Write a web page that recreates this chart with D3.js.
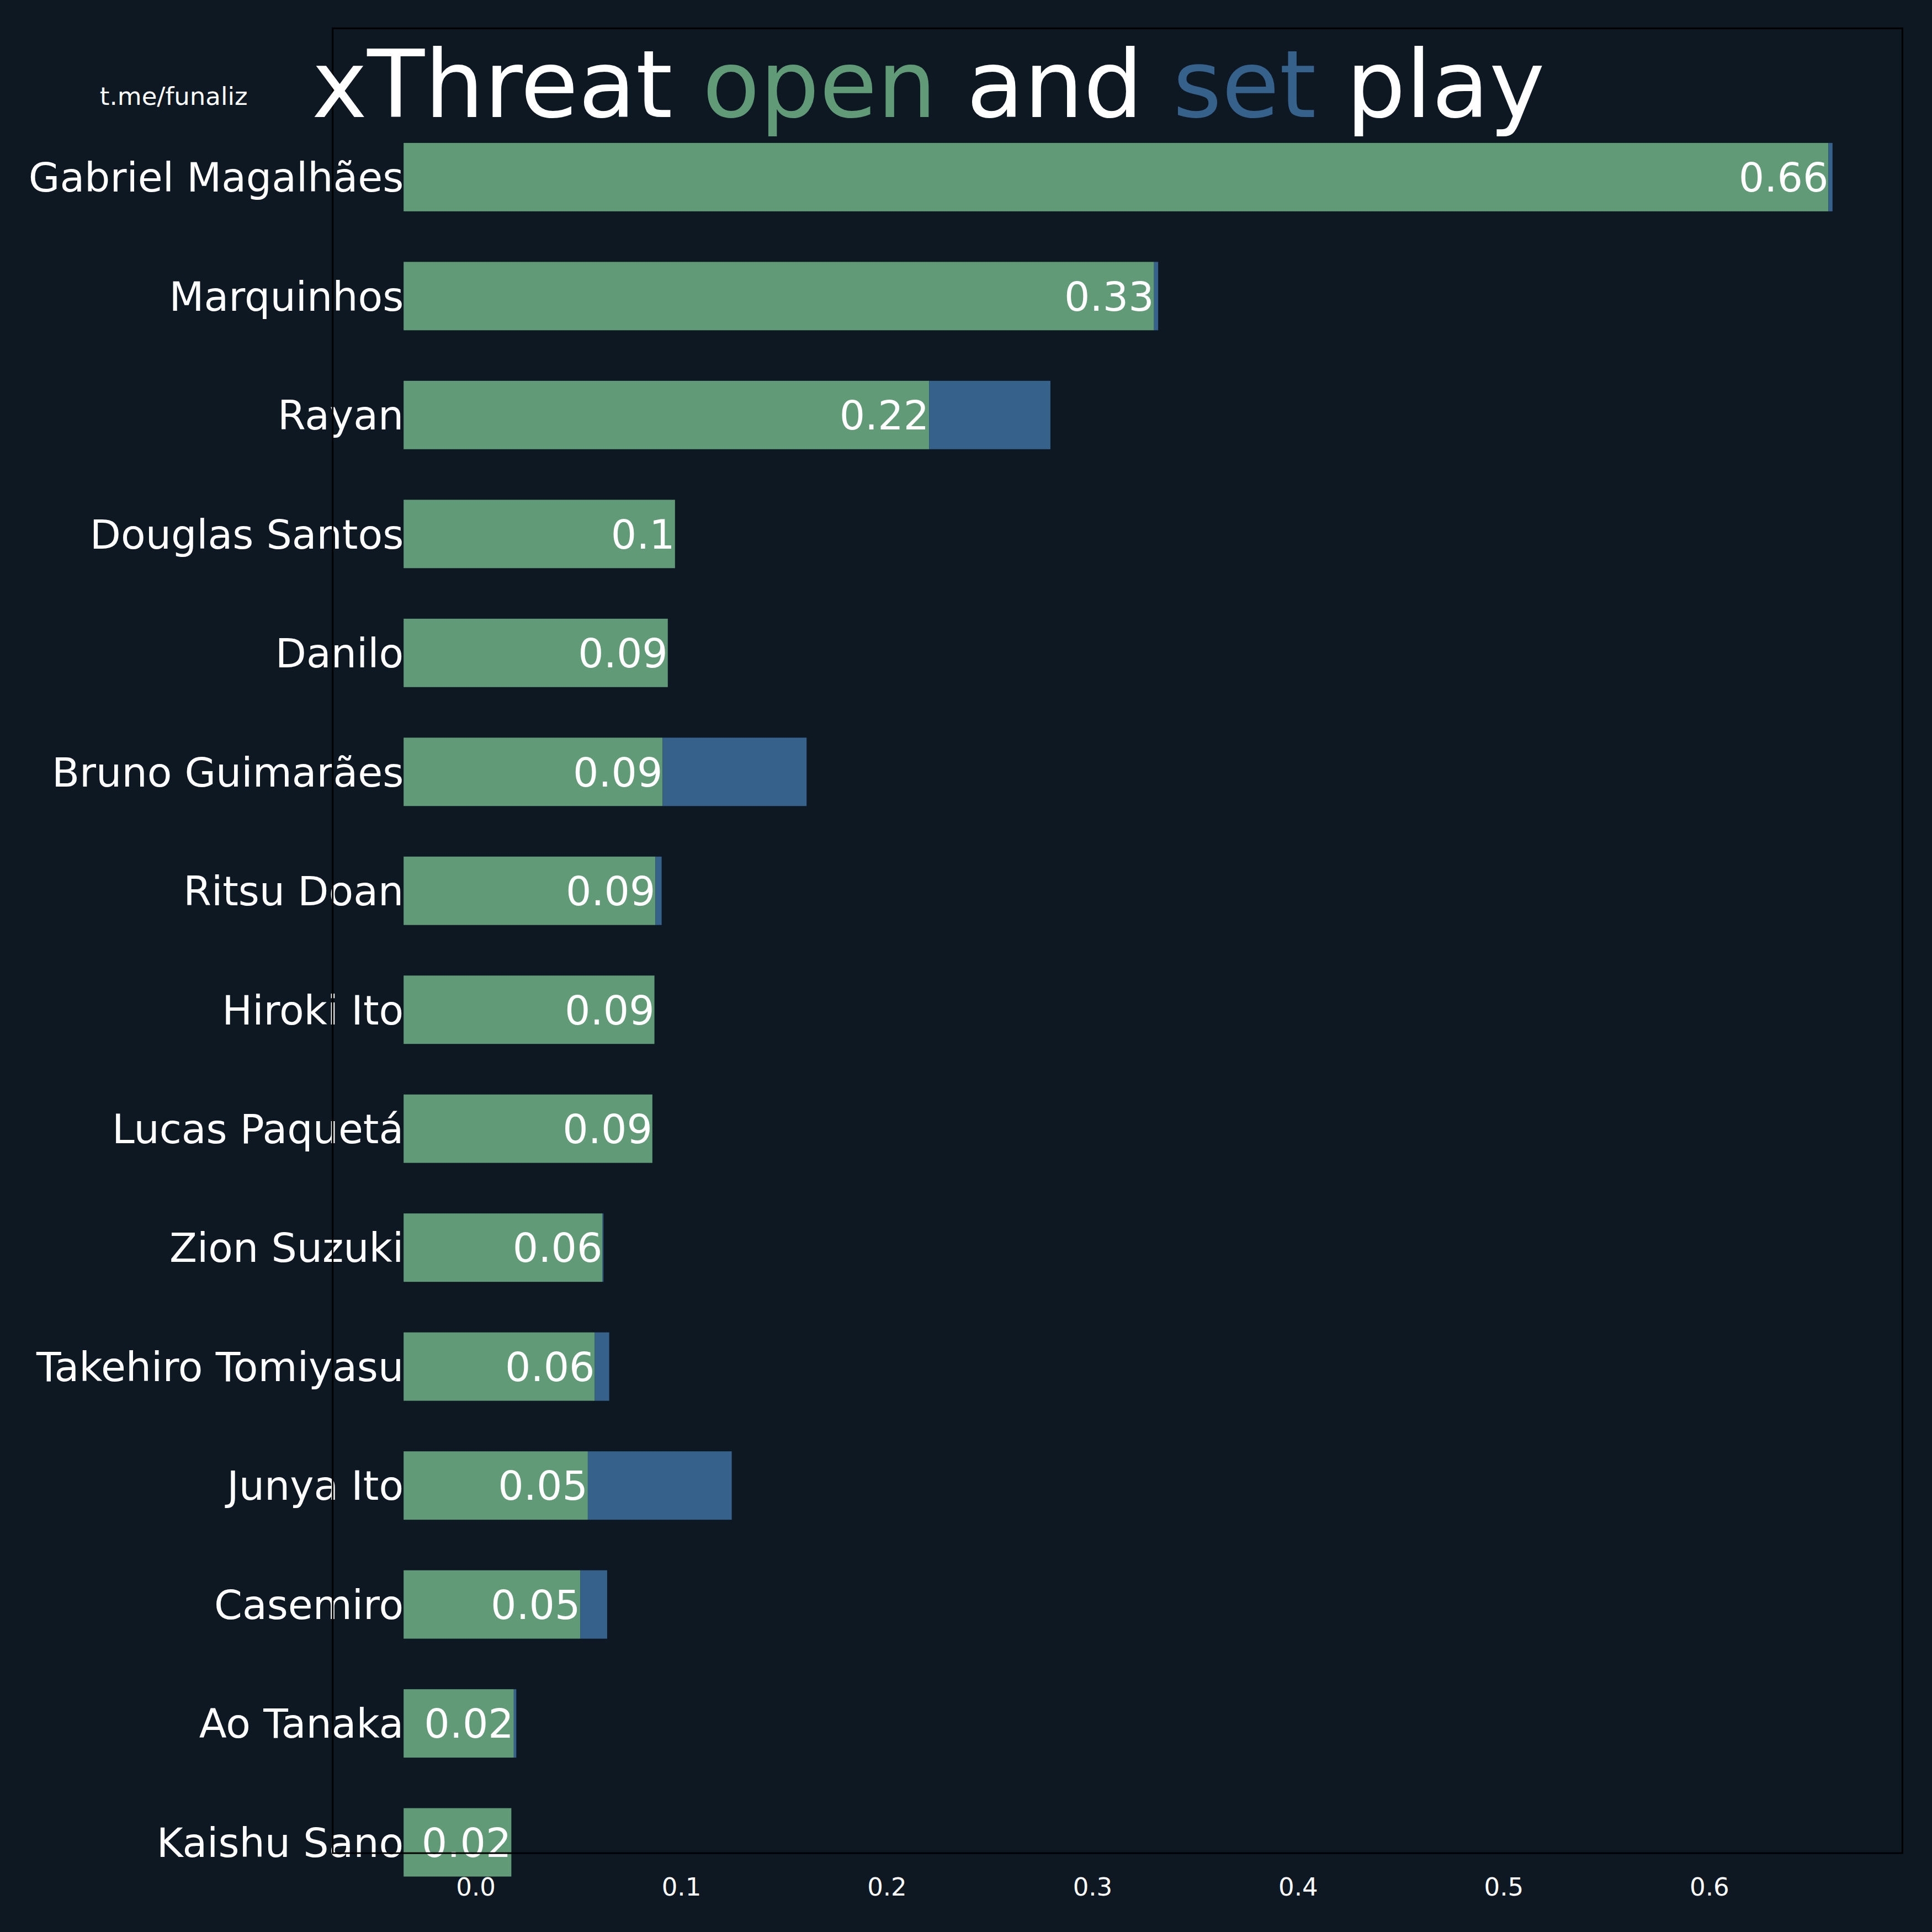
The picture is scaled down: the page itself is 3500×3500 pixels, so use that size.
<!DOCTYPE html>
<html><head><meta charset="utf-8">
<script src="https://cdn.jsdelivr.net/npm/d3@7"></script>
<style>body{margin:0;background:#0e1823}</style>
</head><body>
<script>
const players = ["Gabriel Magalhães","Marquinhos","Rayan","Douglas Santos","Danilo","Bruno Guimarães","Ritsu Doan","Hiroki Ito","Lucas Paquetá","Zion Suzuki","Takehiro Tomiyasu","Junya Ito","Casemiro","Ao Tanaka","Kaishu Sano"];
const openPlay = [0.658,0.330,0.2206,0.097,0.0935,0.091,0.0875,0.087,0.086,0.0617,0.058,0.0546,0.051,0.0186,0.0174];
const setPlay = [0.002,0.002,0.059,0,0,0.070,0.003,0,0,0.0005,0.007,0.070,0.013,0.0012,0];
const barStart = -0.035;
const xTicks = [0,0.1,0.2,0.3,0.4,0.5,0.6];

const s = 3500/1568;
const W = 3500, H = 3500;
const frame = {l:270*s, r:1544*s, t:23*s, b:1504*s};
const green = "#619a77", blue = "#36618b", bg = "#0e1823";

const svg = d3.select("body").append("svg").attr("width",W).attr("height",H)
  .style("font-family","DejaVu Sans");
svg.append("rect").attr("width",W).attr("height",H).attr("fill",bg);

const x = d3.scaleLinear().domain([-0.0695,0.694]).range([frame.l,frame.r]);
const y = d3.scaleBand().domain(players).range([116*s,1523*s]).paddingInner(0.425).paddingOuter(0);

const g = svg.append("g");
players.forEach((p,i)=>{
  const o = openPlay[i], st = setPlay[i];
  g.append("rect").attr("x",x(barStart)).attr("y",y(p)).attr("width",x(o)-x(barStart))
    .attr("height",y.bandwidth()).attr("fill",green);
  if(st>0) g.append("rect").attr("x",x(o)).attr("y",y(p)).attr("width",x(o+st)-x(o))
    .attr("height",y.bandwidth()).attr("fill",blue);
  g.append("text").attr("x",x(o)).attr("y",y(p)+y.bandwidth()/2).attr("dy","0.36em")
    .attr("text-anchor","end").attr("fill","#fff").attr("font-size",73)
    .text(String(+o.toFixed(2)));
  g.append("text").attr("x",x(barStart)).attr("y",y(p)+y.bandwidth()/2).attr("dy","0.36em")
    .attr("text-anchor","end").attr("fill","#fff").attr("font-size",73).text(p);
});

svg.append("rect").attr("x",frame.l).attr("y",frame.t).attr("width",frame.r-frame.l)
  .attr("height",frame.b-frame.t).attr("fill","none").attr("stroke","#000").attr("stroke-width",3);

const ax = svg.append("g").attr("transform",`translate(0,${frame.b})`)
  .call(d3.axisBottom(x).tickValues(xTicks).tickFormat(d3.format(".1f")).tickSize(0).tickPadding(45));
ax.select(".domain").remove();
ax.selectAll("text").attr("fill","#fff").attr("font-size",45).attr("font-family","DejaVu Sans");

svg.append("text").attr("x",141*s).attr("y",85*s).attr("text-anchor","middle")
  .attr("fill","#fff").attr("font-size",45).text("t.me/funaliz");

const t = svg.append("text").attr("x",253*s).attr("y",95*s).attr("font-size",170).attr("fill","#fff");
t.append("tspan").text("xThreat ");
t.append("tspan").attr("fill",green).text("open");
t.append("tspan").text(" and ");
t.append("tspan").attr("fill",blue).text("set");
t.append("tspan").text(" play");
</script>
</body></html>
